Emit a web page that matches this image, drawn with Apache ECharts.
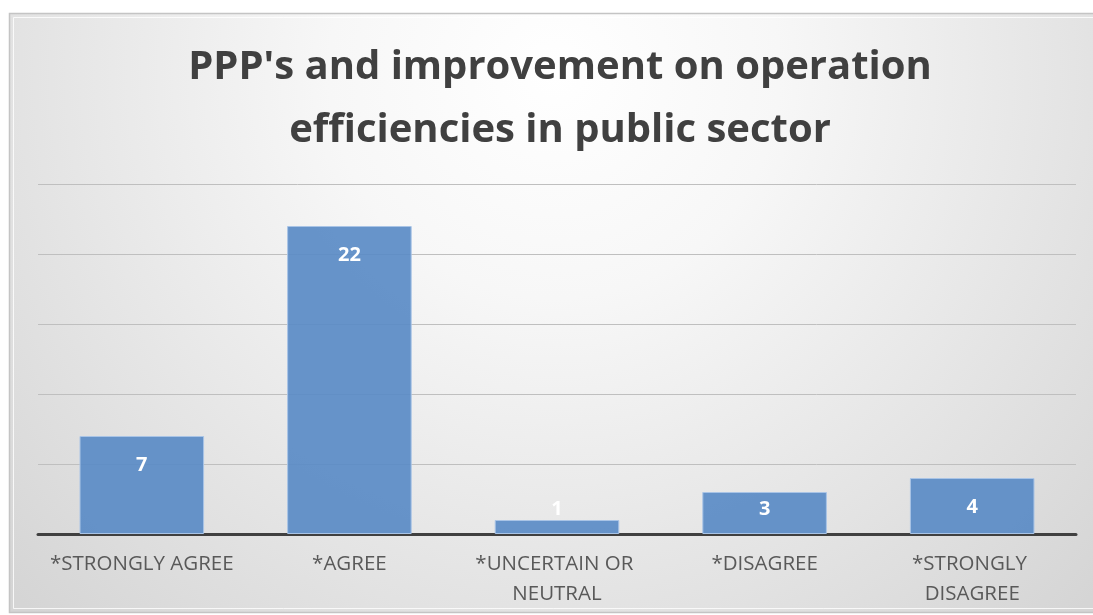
<!DOCTYPE html>
<html>
<head>
<meta charset="utf-8">
<script src="https://cdn.jsdelivr.net/npm/echarts@6/dist/echarts.min.js"></script>
<style>
  html, body { margin: 0; padding: 0; background: #ffffff; }
  #chart { width: 1093px; height: 615px; }
</style>
</head>
<body>
<div id="chart"></div>
<script>
// Survey responses: PPPs and improvement of operation efficiencies
const titleLines = ["PPP's and improvement on operation", "efficiencies in public sector"];
const categories = ["*STRONGLY AGREE", "*AGREE", "*UNCERTAIN OR NEUTRAL", "*DISAGREE", "*STRONGLY DISAGREE"];
const responses = [7, 22, 1, 3, 4];
const axisMax = 25;
const axisStep = 5;

const chart = echarts.init(document.getElementById('chart'), null, { renderer: 'canvas' });

// Short bars get their value label lifted off the baseline
const barData = responses.map(function (v) {
  if (v <= 3) {
    return { value: v, label: { position: 'insideBottom', distance: 15 } };
  }
  return v;
});

chart.setOption({
  animation: false,
  backgroundColor: '#ffffff',
  graphic: [
    {
      type: 'rect',
      z: -10,
      shape: { x: 9.5, y: 13.5, width: 1090, height: 599 },
      style: {
        fill: {
          type: 'radial', x: 0.5, y: 0.1, r: 1.25,
          colorStops: [
            { offset: 0, color: '#ffffff' },
            { offset: 0.3, color: '#f7f7f7' },
            { offset: 0.65, color: '#e6e6e6' },
            { offset: 1, color: '#d5d5d5' }
          ]
        },
        stroke: '#c4c4c4',
        lineWidth: 1.5
      }
    },
    {
      type: 'rect',
      z: -9,
      shape: { x: 13.5, y: 17.5, width: 1090, height: 591 },
      style: { fill: 'none', stroke: 'rgba(255,255,255,0.8)', lineWidth: 1 }
    }
  ],
  title: {
    text: titleLines.join('\n'),
    left: 555,
    top: 31,
    textAlign: 'center',
    textStyle: {
      fontFamily: 'Open Sans',
      fontWeight: 'bold',
      fontSize: 40,
      lineHeight: 63,
      color: '#404040'
    }
  },
  grid: { left: 38, right: 17, top: 184, bottom: 81, containLabel: false },
  xAxis: {
    type: 'category',
    data: categories,
    axisLine: { show: true, lineStyle: { color: '#404040', width: 3 } },
    axisTick: { show: false },
    axisLabel: {
      interval: 0,
      margin: 15,
      width: 200,
      overflow: 'break',
      fontFamily: 'Open Sans',
      fontSize: 20.5,
      lineHeight: 30,
      color: '#595959'
    }
  },
  yAxis: {
    type: 'value',
    min: 0,
    max: axisMax,
    interval: axisStep,
    axisLine: { show: false },
    axisTick: { show: false },
    axisLabel: { show: false },
    splitLine: { show: true, lineStyle: { color: '#bfbfbf', width: 1 } }
  },
  series: [
    {
      type: 'bar',
      data: barData,
      barCategoryGap: '40%',
      itemStyle: {
        color: 'rgba(90,139,197,0.92)',
        borderColor: '#a9c4e6',
        borderWidth: 1
      },
      label: {
        show: true,
        position: 'insideTop',
        distance: 19,
        fontFamily: 'Open Sans',
        fontWeight: 'bold',
        fontSize: 20,
        color: '#ffffff'
      }
    }
  ]
});
</script>
</body>
</html>
